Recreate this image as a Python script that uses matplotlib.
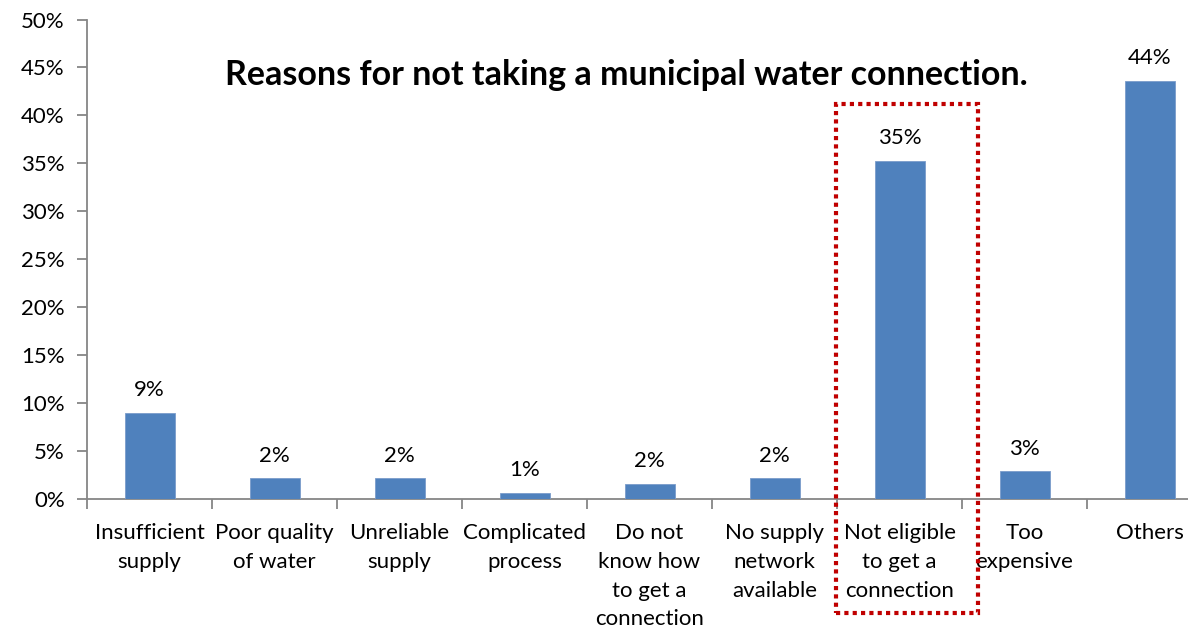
import matplotlib
matplotlib.use("Agg")
import matplotlib.pyplot as plt
from matplotlib.patches import Rectangle
from matplotlib.ticker import FuncFormatter, MultipleLocator, FixedLocator

categories = ["Insufficient\nsupply", "Poor quality\nof water", "Unreliable\nsupply",
              "Complicated\nprocess", "Do not\nknow how\nto get a\nconnection",
              "No supply\nnetwork\navailable", "Not eligible\nto get a\nconnection",
              "Too\nexpensive", "Others"]
values = [9.0, 2.2, 2.2, 0.7, 1.6, 2.2, 35.3, 2.9, 43.6]
title = "Reasons for not taking a municipal water connection."

plt.rcParams['font.family'] = ['Lato', 'DejaVu Sans']
W, H = 1188, 627
fig = plt.figure(figsize=(W/100, H/100), dpi=100)
left, right, top, bottom = 87, 87 + 9*125, 19.5, 499.3
ax = fig.add_axes([left/W, 1 - bottom/H, (right-left)/W, (bottom-top)/H])

grey = "#868686"
x = list(range(len(categories)))
ax.bar(x, values, width=0.4, color="#4F81BD", edgecolor="#7A9CCB", linewidth=0.6, zorder=3)
for xi, v in zip(x, values):
    ax.text(xi, v + 1.3, f"{v:.0f}%", ha="center", va="bottom", fontsize=16)

ax.set_xlim(-0.5, len(categories) - 0.5)
ax.set_ylim(0, 50)
ax.yaxis.set_major_locator(MultipleLocator(5))
ax.yaxis.set_major_formatter(FuncFormatter(lambda v, p: f"{v:.0f}%"))
ax.set_xticks(x)
ax.set_xticklabels(categories, fontsize=16, linespacing=1.55, va="top")
ax.xaxis.set_minor_locator(FixedLocator([i - 0.5 for i in range(len(categories) + 1)]))
ax.tick_params(axis="x", which="major", length=0, pad=17)
ax.tick_params(axis="x", which="minor", length=7, color=grey, width=1.3, direction="out")
ax.tick_params(axis="y", length=7, color=grey, width=1.3, direction="out", labelsize=16, pad=9)
for s in ["top", "right"]:
    ax.spines[s].set_visible(False)
for s in ["left", "bottom"]:
    ax.spines[s].set_color(grey)
    ax.spines[s].set_linewidth(1.3)

fig.text(626/W, 1 - 75/H, title, ha="center", va="center", fontsize=24.5, fontweight="bold")

rect = Rectangle((5.49, -11.9), 6.63 - 5.49, 41.2 + 11.9, fill=False, edgecolor="#C00000",
                 linewidth=3, linestyle=(0, (1, 1)), clip_on=False, zorder=5)
ax.add_patch(rect)

fig.savefig("out.png", dpi=100)
